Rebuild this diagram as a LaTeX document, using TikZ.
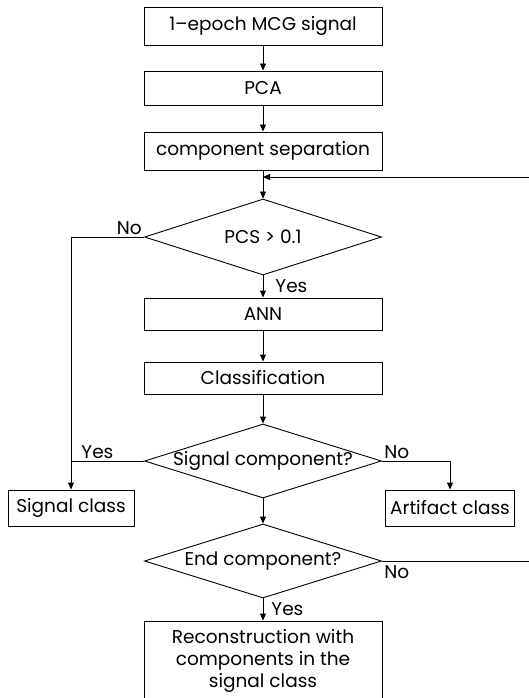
\documentclass[tikz,border=0pt]{standalone}
\usepackage{fontspec}
\setmainfont{Poppins}
\usetikzlibrary{shapes,arrows.meta,calc,positioning}

\begin{document}
\begin{tikzpicture}[x=1pt,y=-1pt,line width=0.9pt,
	font=\fontsize{18.5}{22}\selectfont,
	box/.style={draw,rectangle,minimum width=238pt,inner sep=0pt},
	cls/.style={draw,rectangle,minimum height=36pt,inner sep=5pt},
	test/.style={draw,diamond,aspect=3.2,minimum width=237pt,minimum height=76pt,inner sep=0pt},
	lbl/.style={inner sep=2pt},
	arr/.style={-{Triangle[length=7pt,width=6pt]}}]
\useasboundingbox[fill=white] (0,0) rectangle (528,698);

\node[box,minimum height=38pt] at (263,26) (epoch) {1--epoch MCG signal};
\node[box,minimum height=34pt] at (263,88) (pca) {PCA};
\node[box,minimum height=38pt] at (263,151) (sep) {component separation};
\node[test] at (263,237) (pcs) {\makebox[0pt]{PCS > 0.1}};
\node[box,minimum height=32pt] at (263,314) (ann) {ANN};
\node[box,minimum height=32pt] at (263,378) (clsf) {Classification};
\node[test,minimum height=74pt] at (263,461) (sig) {\makebox[0pt]{Signal component?}};
\node[cls,minimum width=126pt] at (71,508) (sigcls) {Signal class};
\node[cls,minimum width=120pt] at (450,508) (art) {Artifact class};
\node[test,minimum height=74pt] at (263,561) (endc) {\makebox[0pt]{End component?}};
\node[box,minimum height=80pt,align=center] at (263,661) (rec)
	{Reconstruction with\\components in the\\signal class};

% main flow
\foreach \a/\b in {epoch/pca,pca/sep,sep/pcs,pcs/ann,ann/clsf,clsf/sig,sig/endc,endc/rec}
	\draw[arr] (\a) -- (\b);

% branches
\draw[arr] (pcs.west) -- (pcs.west -| sigcls) -- (sigcls);
\draw (sig.west) -- (sig.west -| sigcls);
\draw[arr] (sig.east) -| (art);

% loop back
\coordinate (loop) at (263,177);
\coordinate (c1) at (529,561);
\coordinate (c2) at (529,177);
\draw[arr] (endc.east) -- (c1) -- (c2) -- (loop);

\node[lbl,anchor=south east] at (pcs.west) {No};
\node[lbl,anchor=west,xshift=10pt] at ($(pcs.south)!0.5!(ann.north)$) {Yes};
\node[lbl,anchor=south west,xshift=8pt] at (sig.west -| sigcls) {Yes};
\node[lbl,anchor=south west] at (sig.east) {No};
\node[lbl,anchor=north west,yshift=-2pt] at (endc.east) {No};
\node[lbl,anchor=west,xshift=6pt] at ($(endc.south)!0.5!(rec.north)$) {Yes};
\end{tikzpicture}
\end{document}
